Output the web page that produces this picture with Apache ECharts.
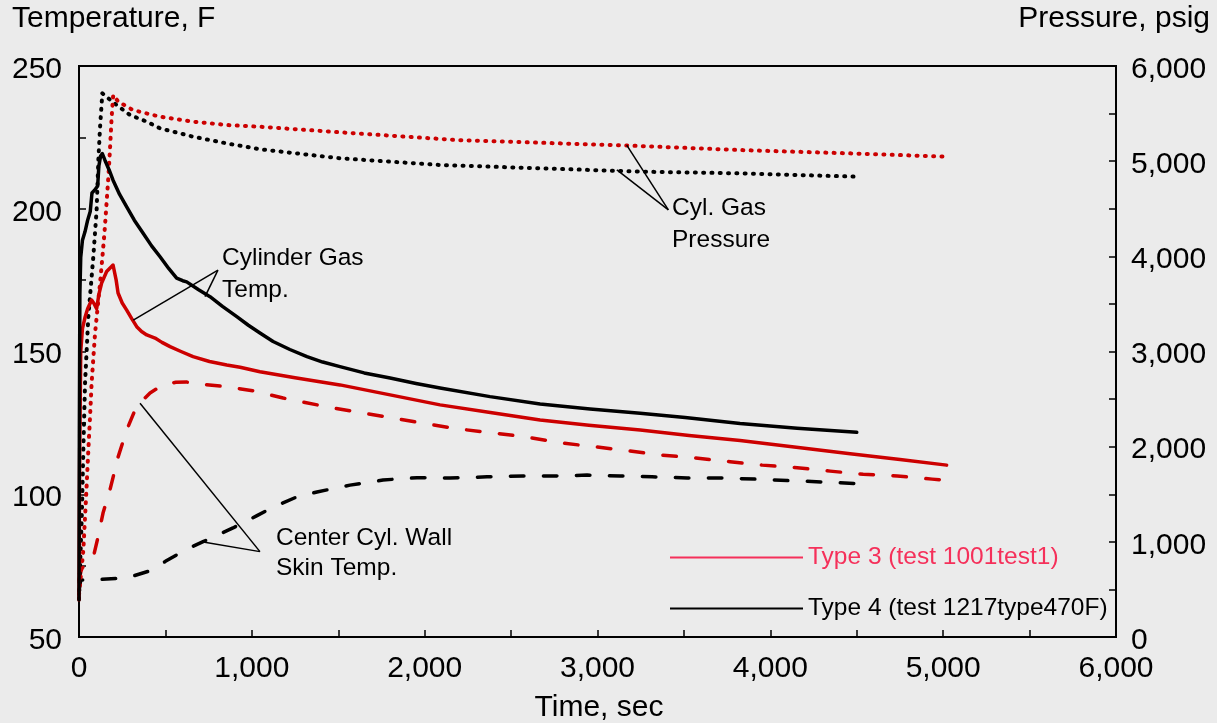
<!DOCTYPE html>
<html><head><meta charset="utf-8">
<script src="https://cdn.jsdelivr.net/npm/echarts@6/dist/echarts.min.js"></script>
<style>html,body{margin:0;padding:0;background:#EBEBEB}#c{width:1217px;height:723px}</style>
</head><body><div id="c"></div>
<script>
// ---------------- DATA ----------------
const xTicks = [0, 1000, 2000, 3000, 4000, 5000, 6000];
const tempTicks = [50, 100, 150, 200, 250];
const pressTicks = [0, 1000, 2000, 3000, 4000, 5000, 6000];

// Type 3 - cylinder gas temperature (F)
const t3GasTime = [0,4,10,20,35,50,73,85,102,115,131,160,197,215,226,250,276,305,334,362,392,440,480,527,590,660,755,855,932,1047,1250,1510,1800,2089,2380,2668,2950,3247,3530,3825,4150,4462,4750,5020];
const t3GasTemp = [63,115,150,158,162,165,168,167,165,170,174,178,180.3,175,170.5,167,164.5,161.5,158.7,157,155.8,154.7,153.2,151.7,150,148.2,146.5,145.3,144.5,142.9,140.8,138.3,134.8,131.3,128.6,126,124.2,122.5,120.6,118.8,116.5,114.2,112.2,110.2];

// Type 4 - cylinder gas temperature (F)
const t4GasTime = [0,2,5,10,20,35,50,65,75,90,108,115,125,135,150,175,197,235,276,320,370,420,469,520,565,600,623,690,758,830,913,980,1047,1123,1220,1319,1410,1510,1650,1800,1950,2089,2378,2668,2957,3247,3507,3825,4155,4500];
const t4GasTemp = [63,120,170,183,189,192,196,199,205.5,206.5,208,215,218.5,219.3,217,213.5,210,205,200.7,196,191.5,187,183.2,179,175.7,174.8,174.4,171.7,169.2,165.8,162.2,159.2,156.5,153.5,150.7,148.2,146.3,144.7,142.5,140.7,138.8,137.2,134.2,131.6,129.9,128.4,126.9,124.8,123.1,121.7];

// Type 3 - center cylinder wall skin temperature (F)
const t3WallTime = [0,16,64,83,110,139,179,226,276,324,353,411,486,560,623,700,855,1007,1181,1435,1626,1817,2014,2205,2396,2593,2784,2975,3171,3374,3565,3767,3953,4155,4346,4537,4734,4936,5000];
const t3WallTemp = [70,74.2,75.9,78,85,93.4,101.5,113,122.5,129.5,132,135.5,138.3,139.2,139.3,138.6,137.7,136.2,133.7,130.6,128.6,126.7,124.6,122.8,121.5,120,118,116.7,115.3,113.7,112.7,111.4,110.2,109.3,108.1,107,106.4,105.3,105];

// Type 4 - center cylinder wall skin temperature (F)
const t4WallTime = [0,10,81,278,428,500,584,650,718,891,1030,1123,1250,1377,1568,1759,1956,2147,2361,2569,2743,2940,3131,3316,3519,3709,3912,4097,4300,4500];
const t4WallTemp = [66,70,70,70.7,73.5,76.5,79.4,81.5,83.4,88.2,92.5,95.5,98.8,100.8,103.2,105,105.8,105.7,106.1,106.4,106.4,106.7,106.4,106.1,105.7,105.7,105.3,104.8,104.3,103.7];

// Type 3 - cylinder gas pressure (psig)
const t3PressTime = [0,16,25,35,45,54,64,73,93,122,139,150,170,179,189,198,227,312,469,660,855,1047,1568,2188,3206,3825,4462,5023];
const t3PressVal  = [450,736,914,1261,1618,1965,2315,2669,3194,3720,4066,4311,4837,5117,5467,5695,5625,5537,5467,5415,5380,5362,5296,5222,5162,5117,5082,5047];

// Type 4 - cylinder gas pressure (psig)
const t4PressTime = [0,6,16,25,35,54,83,102,112,122,135,170,218,295,392,469,660,855,1047,1510,2089,2668,3247,3825,4500];
const t4PressVal  = [400,736,1261,1965,2669,3366,4000,4487,5012,5362,5713,5660,5590,5485,5415,5345,5257,5187,5125,5030,4960,4925,4890,4872,4837];

// Annotation leader lines (time, temperature F)
const gasTempLeaders   = [[[804,178.5],[314,161]], [[804,178.5],[729,169.2]]];
const wallTempLeaders  = [[[1047,79.9],[353,131.9]], [[1047,79.9],[710,83.4]]];
const pressureLeaders  = [[[3410,199.6],[3169,222.3]], [[3410,199.6],[3112,213.6]]];

const legendNames = ['Type 3 (test 1001test1)', 'Type 4 (test 1217type470F)'];
// --------------------------------------

const FONT = '"Liberation Sans", Arial, sans-serif';
const RED = '#CC0000', BLACK = '#000000', LEGRED = '#F5305A';
const zip = (a, b) => a.map((v, i) => [v, b[i]]);
const fmt = v => String(v).replace(/\B(?=(\d{3})+(?!\d))/g, ',');
const fmtY = v => '{a|' + fmt(v) + '}';
const leaders = arr => arr.map(p => [{coord: p[0]}, {coord: p[1]}]);

const axisCommon = {
  axisLine: {show: true, onZero: false, lineStyle: {color: '#000', width: 2}},
  axisTick: {show: true, inside: true, length: 7, lineStyle: {color: '#000', width: 1.5}},
  minorTick: {show: true, splitNumber: 2, length: 7, lineStyle: {color: '#000', width: 1.5}},
  splitLine: {show: false},
  minorSplitLine: {show: false},
  axisLabel: {color: '#000', fontSize: 30, fontFamily: FONT, formatter: fmt}
};
const yLabelRich = {a: {color: '#000', fontSize: 30, fontFamily: FONT, padding: [7, 0, 0, 0]}};

function lineSeries(name, time, vals, color, type, yAxisIndex, extra) {
  return Object.assign({
    name, type: 'line', yAxisIndex, data: zip(time, vals),
    showSymbol: false, symbol: 'none', silent: true, animation: false,
    lineStyle: {color, width: type === 'dot' ? 4 : 3.5, cap: 'round', join: 'round',
      type: type === 'solid' ? 'solid' : type === 'dash' ? [13.5, 19.5] : [1, 7.3]},
    itemStyle: {color}
  }, extra || {});
}

const mlStyle = {symbol: ['none', 'none'], silent: true, animation: false,
  label: {show: false}, lineStyle: {color: '#000', width: 1.5, type: 'solid'}};

const chart = echarts.init(document.getElementById('c'), null, {renderer: 'canvas'});
chart.setOption({
  backgroundColor: '#EBEBEB',
  animation: false,
  grid: {left: 79, right: 101, top: 66, bottom: 86, show: true, borderColor: '#000', borderWidth: 2,
         backgroundColor: 'transparent', containLabel: false, outerBoundsMode: 'none'},
  xAxis: Object.assign({}, axisCommon, {type: 'value', min: xTicks[0], max: xTicks[xTicks.length-1],
    interval: xTicks[1]-xTicks[0], axisLabel: Object.assign({}, axisCommon.axisLabel, {margin: 17})}),
  yAxis: [
    Object.assign({}, axisCommon, {type: 'value', position: 'left', min: tempTicks[0], max: tempTicks[tempTicks.length-1],
      interval: tempTicks[1]-tempTicks[0], axisLabel: Object.assign({}, axisCommon.axisLabel, {margin: 17, formatter: fmtY, rich: yLabelRich})}),
    Object.assign({}, axisCommon, {type: 'value', position: 'right', min: pressTicks[0], max: pressTicks[pressTicks.length-1],
      interval: pressTicks[1]-pressTicks[0], axisLabel: Object.assign({}, axisCommon.axisLabel, {margin: 15, formatter: fmtY, rich: yLabelRich})})
  ],
  legend: {
    show: true, orient: 'vertical', left: 670, top: 545, padding: 0, itemGap: 26,
    icon: 'rect', itemWidth: 133, itemHeight: 2, selectedMode: false,
    textStyle: {fontSize: 24.5, fontFamily: FONT, lineHeight: 24},
    data: [
      {name: legendNames[0], itemStyle: {color: LEGRED}, textStyle: {color: LEGRED}},
      {name: legendNames[1], itemStyle: {color: BLACK}, textStyle: {color: BLACK}}
    ]
  },
  graphic: [
    {type: 'text', x: 12, y: 19, silent: true, style: {text: 'Temperature, F', font: '30px ' + FONT, fill: '#000', verticalAlign: 'middle', align: 'left'}},
    {type: 'text', x: 1210, y: 19, silent: true, style: {text: 'Pressure, psig', font: '30px ' + FONT, fill: '#000', verticalAlign: 'middle', align: 'right'}},
    {type: 'text', x: 599, y: 708, silent: true, style: {text: 'Time, sec', font: '30px ' + FONT, fill: '#000', verticalAlign: 'middle', align: 'center'}},
    {type: 'text', x: 222, y: 242, silent: true, style: {text: 'Cylinder Gas\nTemp.', font: '24.5px ' + FONT, lineHeight: 32, fill: '#000', verticalAlign: 'top', align: 'left'}},
    {type: 'text', x: 672, y: 192, silent: true, style: {text: 'Cyl. Gas\nPressure', font: '24.5px ' + FONT, lineHeight: 32, fill: '#000', verticalAlign: 'top', align: 'left'}},
    {type: 'text', x: 276, y: 523, silent: true, style: {text: 'Center Cyl. Wall\nSkin Temp.', font: '24.5px ' + FONT, lineHeight: 30, fill: '#000', verticalAlign: 'top', align: 'left'}}
  ],
  series: [
    lineSeries('T4 wall', t4WallTime, t4WallTemp, BLACK, 'dash', 0,
      {markLine: Object.assign({}, mlStyle, {data: leaders(wallTempLeaders)})}),
    lineSeries('T3 wall', t3WallTime, t3WallTemp, RED, 'dash', 0),
    lineSeries('T4 press', t4PressTime, t4PressVal, BLACK, 'dot', 1),
    lineSeries('T3 press', t3PressTime, t3PressVal, RED, 'dot', 1),
    lineSeries('T3 gas', t3GasTime, t3GasTemp, RED, 'solid', 0,
      {markLine: Object.assign({}, mlStyle, {data: leaders(gasTempLeaders).concat(leaders(pressureLeaders))})}),
    lineSeries('T4 gas', t4GasTime, t4GasTemp, BLACK, 'solid', 0),
    {name: legendNames[0], type: 'line', data: [], itemStyle: {color: LEGRED}, lineStyle: {color: LEGRED}},
    {name: legendNames[1], type: 'line', data: [], itemStyle: {color: BLACK}, lineStyle: {color: BLACK}}
  ]
});
</script></body></html>
